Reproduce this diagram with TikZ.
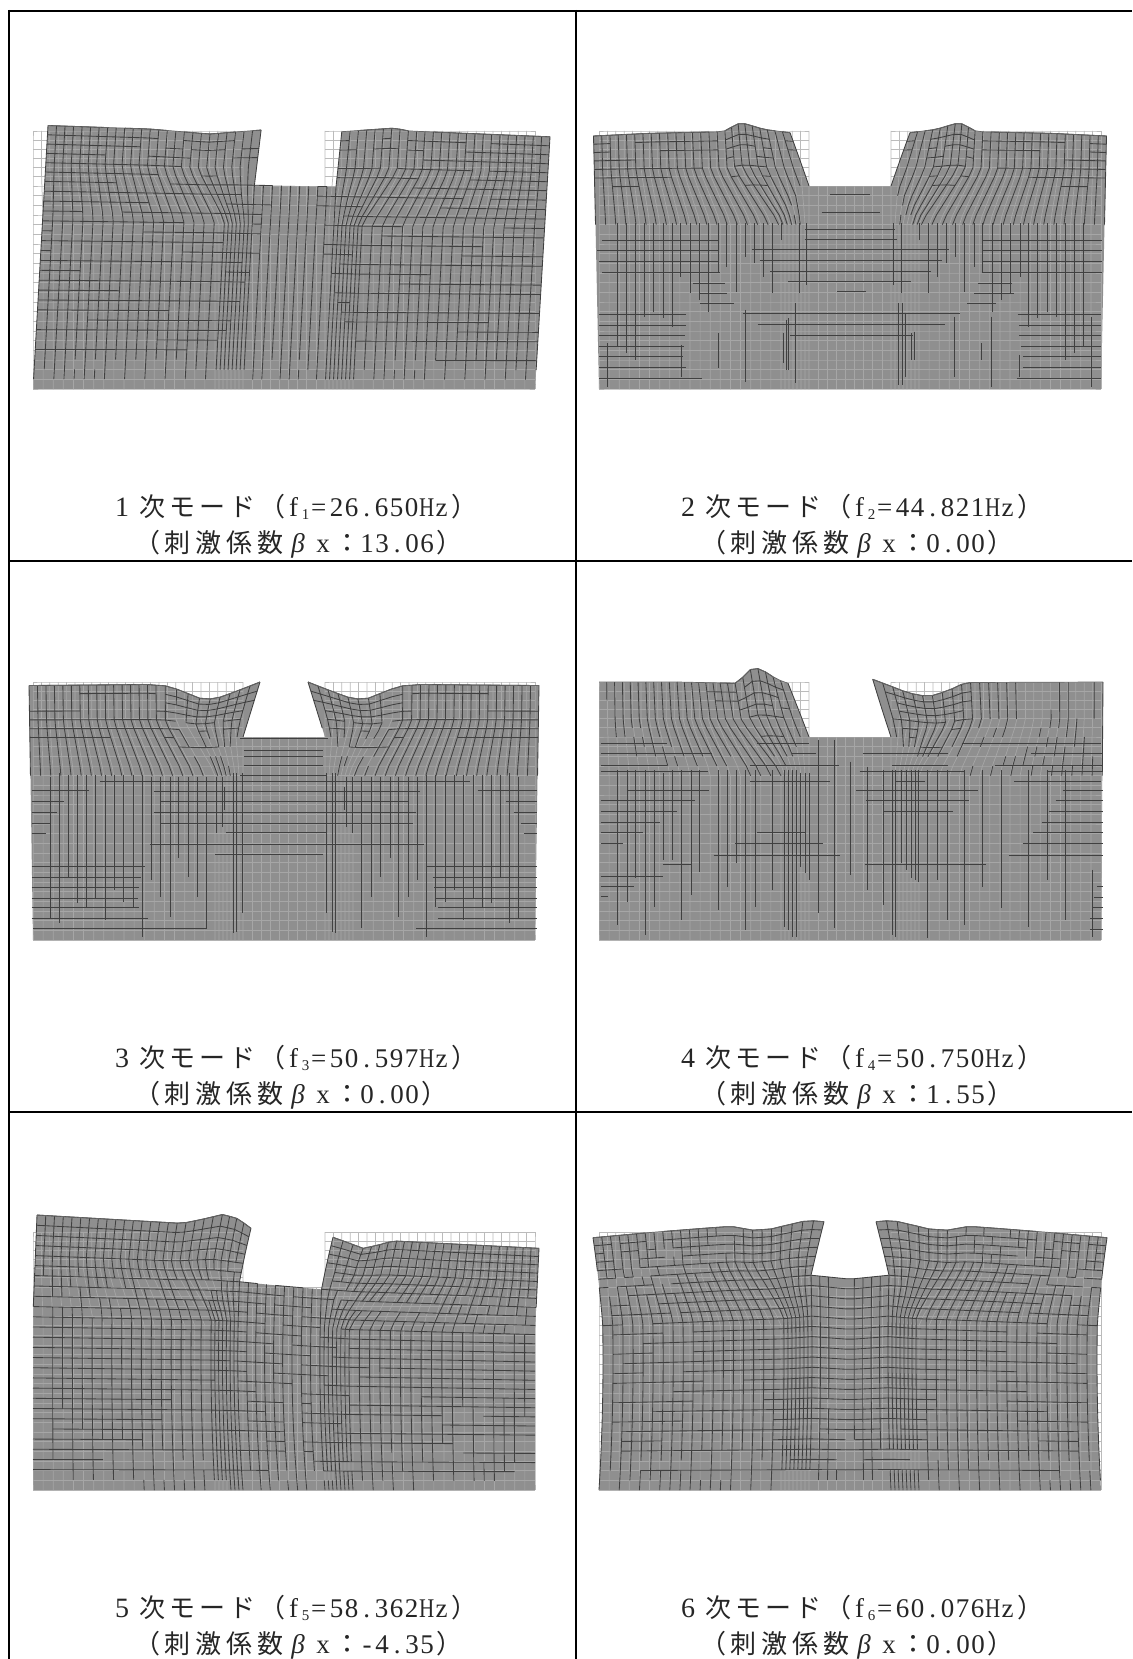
\documentclass[tikz,border=0pt]{standalone}
\usepackage{fontspec}
\setmainfont{Liberation Serif}
\newfontfamily\cjk{Noto Sans CJK JP}
\definecolor{meshfill}{HTML}{8F8F8F}
\definecolor{meshlight}{HTML}{BBBBBB}
\definecolor{meshinner}{HTML}{A6A6A6}
\definecolor{meshdark}{HTML}{404040}
\definecolor{meshedge}{HTML}{666666}
\tikzset{rule/.style={line width=2pt,black},capnode/.style={anchor=base west,inner sep=0pt,text=black!85},
  meshln/.style={draw=meshdark,line width=0.85pt}}
\makeatletter
\newcount\ci \newcount\cj \newcount\cn \newcount\cm
\newdimen\dU \newdimen\dH \newdimen\dX \newdimen\dY \newdimen\dM \newdimen\dD
\def\setv#1#2{\expandafter\xdef\csname#1\endcsname{#2}}
\def\getv#1{\csname#1\endcsname}
\def\IPsplit#1/#2\@nil{\def\curx{#1}\def\curv{#2}}
\def\interp#1#2{%
  \edef\ipq{#2}\def\ipres{0}\def\ipstate{0}%
  \@for\ippair:=#1\do{%
    \expandafter\IPsplit\ippair\@nil
    \ifnum\ipstate=0
      \ifdim\ipq pt>\curx pt \def\ipstate{1}\else \let\ipres\curv \def\ipstate{2}\fi
    \else\ifnum\ipstate=1
      \ifdim\ipq pt>\curx pt \else
        \pgfmathsetmacro\ipres{\prevv+(\curv-\prevv)*(\ipq-\prevx)/(\curx-\prevx)}%
        \def\ipstate{2}\fi
    \fi\fi
    \let\prevx\curx \let\prevv\curv}%
  \ifnum\ipstate=1 \let\ipres\prevv\fi}
\ci=0
\@whilenum\ci<26\do{%
  \pgfmathsetmacro\tmp{33+8.4*\the\ci}\setv{XT\the\ci}{\tmp}%
  \ifnum\ci<19 \pgfmathsetmacro\tmp{33+10.111*\the\ci}\else\pgfmathsetmacro\tmp{215+4*(\the\ci-18)}\fi
  \setv{XB\the\ci}{\tmp}\advance\ci 1 }
\ci=26
\@whilenum\ci<34\do{%
  \pgfmathsetmacro\tmp{243+9.1111*(\the\ci-25)}\setv{XT\the\ci}{\tmp}\setv{XB\the\ci}{\tmp}\advance\ci 1 }
\ci=34
\@whilenum\ci<60\do{%
  \cn=59 \advance\cn-\ci
  \pgfmathsetmacro\tmp{568-\getv{XT\the\cn}}\setv{XT\the\ci}{\tmp}%
  \pgfmathsetmacro\tmp{568-\getv{XB\the\cn}}\setv{XB\the\ci}{\tmp}\advance\ci 1 }
\cj=0
\@whilenum\cj<28\do{%
  \ifnum\cj<7 \pgfmathsetmacro\tmp{131+9.1667*\the\cj}\else\pgfmathsetmacro\tmp{186+9.6667*(\the\cj-6)}\fi
  \setv{YR\the\cj}{\tmp}%
  \pgfmathsetmacro\ss{max(0,min(1,(222-\tmp)/52))}\setv{SJ\the\cj}{\ss}%
  \pgfmathsetmacro\kk{(389-\tmp)/258}\setv{KJ\the\cj}{\kk}%
  \pgfmathsetmacro\mm{4*\kk*(1-\kk)}\setv{MJ\the\cj}{\mm}%
  \advance\cj 1 }
\def\modedata#1#2#3#4#5#6{%
  \ci=0
  \@whilenum\ci<60\do{%
    \edef\xq{\getv{XT\the\ci}}\let\xe\xq\def\sg{1}%
    \ifnum#6=1 \ifdim\xq pt>284pt \pgfmathsetmacro\xe{568-\xq}\def\sg{-1}\fi\fi
    \interp{#1}{\xe}\pgfmathsetmacro\tmp{\sg*\ipres}\setv{A\the\ci}{\tmp}%
    \interp{#2}{\xe}\pgfmathsetmacro\tmp{\sg*\ipres}\setv{B\the\ci}{\tmp}%
    \interp{#3}{\xe}\setv{C\the\ci}{\ipres}%
    \interp{#4}{\xe}\setv{D\the\ci}{\ipres}%
    \interp{#5}{\xe}\pgfmathsetmacro\tmp{\sg*\ipres}\setv{E\the\ci}{\tmp}%
    \pgfmathsetmacro\dist{\xq<284 ? 243-\xq : \xq-325}%
    \pgfmathsetmacro\yz{186+36*max(0,min(1,\dist/60))}\setv{YZ\the\ci}{\yz}%
    \pgfmathsetmacro\tmp{1/(\yz-131)}\setv{R\the\ci}{\tmp}%
    \advance\ci 1 }%
  \ci=0
  \@whilenum\ci<60\do{%
    \edef\xtt{\getv{XT\the\ci}}\edef\xbb{\getv{XB\the\ci}}%
    \edef\aa{\getv{A\the\ci}}\edef\bb{\getv{B\the\ci}}\edef\cc{\getv{C\the\ci}}%
    \edef\dd{\getv{D\the\ci}}\edef\ee{\getv{E\the\ci}}\edef\rr{\getv{R\the\ci}}\edef\yz{\getv{YZ\the\ci}}%
    \cj=0
    \@whilenum\cj<28\do{%
      \edef\yj{\getv{YR\the\cj}}\edef\sj{\getv{SJ\the\cj}}\edef\kj{\getv{KJ\the\cj}}\edef\mj{\getv{MJ\the\cj}}%
      \dU=\xbb pt \advance\dU by \sj\dimexpr\xtt pt-\xbb pt\relax
      \dH=\rr\dimexpr\yz pt-\yj pt\relax
      \ifdim\dH<0pt \dH=0pt\fi
      \edef\hh{\strip@pt\dH}%
      \dD=\hh\dH \edef\hq{\strip@pt\dD}%
      \dX=\dU
      \advance\dX by \hh\dimexpr\aa pt\relax
      \advance\dX by \kj\dimexpr\bb pt\relax
      \advance\dX by \mj\dimexpr\ee pt\relax
      \dY=\yj pt
      \advance\dY by \hq\dimexpr\cc pt\relax
      \advance\dY by \kj\dimexpr\dd pt\relax
      \setv{U\the\ci.\the\cj}{\the\dU}%
      \setv{X\the\ci.\the\cj}{\the\dX}%
      \setv{Y\the\ci.\the\cj}{\the\dY}%
      \advance\cj 1 }%
    \advance\ci 1 }}
\def\Pn#1#2{\pgfqpoint{\getv{X#1.#2}}{-\getv{Y#1.#2}}}
\def\Pu#1#2{\pgfqpoint{\getv{U#1.#2}}{-\getv{YR#2}pt}}
\def\aliasvisible{\cn=\dM \divide\cn 87381 \cm=\cn \divide\cm 3 \multiply\cm 3 \advance\cn-\cm}
\def\bodypath{%
  \pgfpathmoveto{\Pn{0}{0}}%
  \ci=1 \@whilenum\ci<26\do{\pgfpathlineto{\Pn{\the\ci}{0}}\advance\ci 1 }%
  \cj=1 \@whilenum\cj<7\do{\pgfpathlineto{\Pn{25}{\the\cj}}\advance\cj 1 }%
  \ci=26 \@whilenum\ci<35\do{\pgfpathlineto{\Pn{\the\ci}{6}}\advance\ci 1 }%
  \cj=5 \@whilenum\cj>-1\do{\pgfpathlineto{\Pn{34}{\the\cj}}\advance\cj-1 }%
  \ci=35 \@whilenum\ci<60\do{\pgfpathlineto{\Pn{\the\ci}{0}}\advance\ci 1 }%
  \cj=1 \@whilenum\cj<28\do{\pgfpathlineto{\Pn{59}{\the\cj}}\advance\cj 1 }%
  \ci=58 \@whilenum\ci>-1\do{\pgfpathlineto{\Pn{\the\ci}{27}}\advance\ci-1 }%
  \cj=26 \@whilenum\cj>0\do{\pgfpathlineto{\Pn{0}{\the\cj}}\advance\cj-1 }%
  \pgfpathclose}
\def\gridpath{%
  \ci=0
  \@whilenum\ci<60\do{%
    \ifnum\ci>25 \ifnum\ci<34 \cj=6 \else\cj=0 \fi\else\cj=0 \fi
    \pgfpathmoveto{\Pu{\the\ci}{\the\cj}}\advance\cj 1
    \@whilenum\cj<28\do{\pgfpathlineto{\Pu{\the\ci}{\the\cj}}\advance\cj 1 }%
    \pgfusepath{stroke}\advance\ci 1 }%
  \cj=0
  \@whilenum\cj<28\do{%
    \pgfpathmoveto{\Pu{0}{\the\cj}}%
    \ci=1
    \@whilenum\ci<60\do{%
      \ifnum\cj<6 \ifnum\ci=34 \pgfpathmoveto{\Pu{34}{\the\cj}}\else\ifnum\ci>25 \ifnum\ci<34 \else\pgfpathlineto{\Pu{\the\ci}{\the\cj}}\fi\else\pgfpathlineto{\Pu{\the\ci}{\the\cj}}\fi\fi
      \else\pgfpathlineto{\Pu{\the\ci}{\the\cj}}\fi
      \advance\ci 1 }%
    \pgfusepath{stroke}\advance\cj 1 }}
\def\jcut{28}
\def\thr{0.45}
\def\modedraw{%
  \pgfsetroundjoin
  \pgfsetstrokecolor{meshlight}\pgfsetlinewidth{0.75pt}%
  \gridpath
  \pgfsetfillcolor{meshfill}%
  \bodypath\pgfusepath{fill}%
  \begin{pgfscope}%
    \bodypath\pgfusepath{clip}%
    \pgfsetstrokecolor{meshinner}\pgfsetlinewidth{0.7pt}%
    \gridpath
  \end{pgfscope}%
  \pgfsetstrokecolor{meshdark}\pgfsetlinewidth{0.85pt}\pgfsetbuttcap
  \cj=0
  \@whilenum\cj<\jcut\do{%
    \ci=0
    \@whilenum\ci<59\do{%
      \def\doedge{1}%
      \ifnum\cj<6 \ifnum\ci>24 \ifnum\ci<34 \def\doedge{0}\fi\fi\fi
      \ifnum\doedge=1
        \cm=\ci \advance\cm 1
        \dM=\dimexpr(\getv{Y\the\ci.\the\cj}+\getv{Y\the\cm.\the\cj})/2\relax
        \dD=\dimexpr\dM-\getv{YR\the\cj}pt\relax
        \ifdim\dD<0pt \dD=-\dD\fi
        \ifdim\dD>\thr pt
          \cm=\ci \advance\cm 1 \edef\inext{\the\cm}%
          \aliasvisible
          \ifdim\dD>3.5pt \cn=0 \fi
          \ifnum\cn<2
            \pgfpathmoveto{\Pn{\the\ci}{\the\cj}}\pgfpathlineto{\Pn{\inext}{\the\cj}}%
          \fi
        \fi
      \fi
      \advance\ci 1 }%
    \pgfusepath{stroke}\advance\cj 1 }%
  \ci=0
  \@whilenum\ci<60\do{%
    \cj=0
    \@whilenum\cj<\jcut\do{%
      \ifnum\cj<27
      \def\doedge{1}%
      \ifnum\cj<6 \ifnum\ci>25 \ifnum\ci<34 \def\doedge{0}\fi\fi\fi
      \ifnum\doedge=1
        \cm=\cj \advance\cm 1 \edef\jnext{\the\cm}%
        \dM=\dimexpr(\getv{X\the\ci.\the\cj}+\getv{X\the\ci.\jnext})/2\relax
        \dD=\dimexpr\dM-(\getv{U\the\ci.\the\cj}+\getv{U\the\ci.\jnext})/2\relax
        \ifdim\dD<0pt \dD=-\dD\fi
        \ifdim\dD>\thr pt
          \aliasvisible
          \ifdim\dD>1.5pt \cn=0 \fi
          \ifnum\cn<2
            \pgfpathmoveto{\Pn{\the\ci}{\the\cj}}\pgfpathlineto{\Pn{\the\ci}{\jnext}}%
          \fi
        \fi
      \fi
      \fi
      \advance\cj 1 }%
    \pgfusepath{stroke}\advance\ci 1 }%
  \pgfsetstrokecolor{meshedge}\pgfsetlinewidth{0.7pt}%
  \pgfpathmoveto{\Pn{0}{0}}%
  \ci=1 \@whilenum\ci<26\do{\pgfpathlineto{\Pn{\the\ci}{0}}\advance\ci 1 }%
  \pgfpathmoveto{\Pn{34}{0}}%
  \ci=35 \@whilenum\ci<60\do{\pgfpathlineto{\Pn{\the\ci}{0}}\advance\ci 1 }%
  \pgfusepath{stroke}}
\newcommand\meshH[1]{\foreach \yy/\aa/\bb in {#1}{\draw[meshln] (\aa,\yy) -- (\bb,\yy);}}
\newcommand\meshV[1]{\foreach \xx/\aa/\bb in {#1}{\draw[meshln] (\xx,\aa) -- (\xx,\bb);}}
\newcommand\meshVs[2]{\foreach \xx/\aa/\bb in {#2}{\draw[meshln] (\xx,\aa) -- (\xx,\bb);
  \draw[meshln] ({#1-\xx},\aa) -- ({#1-\xx},\bb);}}
\newcommand\hws[1]{\fontsize{27}{27}\selectfont\@tfor\hwc:=#1\do{\makebox[15pt]{\hwc}}}
\newcommand\fwj[2][30pt]{\makebox[#1]{\fontsize{26}{26}\selectfont\cjk #2}}
\newcommand\capone[3]{\fontsize{27}{27}\selectfont
  \makebox[30pt]{\fontsize{28}{28}\selectfont #1}\fwj{次}\fwj{モ}\fwj{ー}\fwj{ド}\fwj{（}%
  \makebox[13pt]{f}\makebox[11pt]{\raisebox{-3pt}{\fontsize{15}{15}\selectfont #2}}\makebox[15pt]{=}\hspace{3pt}\hws{#3}%
  \makebox[15pt]{\scalebox{0.78}[1]{H}}\makebox[15pt]{z}\fwj{）}}
\newcommand\captwo[1]{\fontsize{27}{27}\selectfont
  \fwj{（}\fwj[31pt]{刺}\fwj[31pt]{激}\fwj[31pt]{係}\fwj[31pt]{数}%
  \makebox[24pt]{\itshape β}\makebox[26pt]{x}\makebox[22pt]{\fontsize{26}{26}\selectfont\cjk ：}\hspace{1.5pt}\hws{#1}\fwj{）}}
\makeatother
\begin{document}
\begin{tikzpicture}[x=1pt,y=1pt]
\useasboundingbox (0,0) rectangle (1132,-1659);
\fill[white] (0,0) rectangle (1132,-1659);
\makeatletter
% mode 1
\begin{scope}[shift={(0,0)}]
\modedata{33/0,243/3.6,284/0,325/2.8,535/0}{33/15,243/14.5,325/14,535/15}{33/0.5,133/1.6,192/5.2,243/0,325/-0.3,378/-5.2,393/-2.6,535/-0.2}{33/-6,284/0,535/6}{33/0}{0}
\modedraw
\end{scope}
% mode 2
\begin{scope}[shift={(566,0)}]
\modedata{33/0,165/-3,194/-11,243/-19}{33/-5.5,165/-5,243/0}{33/5,90/2.3,165/0.7,172/-2,180/-6,187/-8,195/-7,205/-4,215/-1.5,243/1.7}{33/0}{33/0}{1}
\def\jcut{10}\modedraw
\begin{scope}[shift={(4,-90)},x=0.361pt,y=-0.3333pt]
\meshH{312/720/830,366/697/858,418/652/900,448/650/905,478/505/1050,510/525/1030,543/555/1000,574/605/945,605/740/820,670/480/1080,702/520/1040,735/610/950,
672/80/320,705/80/320,737/80/318,770/80/315,800/80/312,832/80/320,864/80/365,
672/1240/1472,705/1245/1472,737/1245/1472,770/1250/1472,800/1255/1472,832/1255/1472,864/1238/1472,
580/340/430,610/360/435,640/360/455,580/1130/1225,610/1120/1230,640/1100/1180,
450/90/410,482/75/410,514/80/410,546/90/415,450/1145/1475,482/1145/1475,514/1145/1475,546/1140/1475}
\meshVs{1552}{130/400/770,155/400/790,180/400/810,205/400/680,230/400/665,258/400/685,283/400/710,305/400/560,333/400/610,358/400/630,383/400/665,410/400/545,433/400/530,460/400/605,485/400/500,510/400/520,535/400/560,560/400/610,585/400/450,635/400/610,655/400/585}
\meshV{105/760/890,485/660/875,625/640/880,605/685/840,600/690/840,590/730/820,410/730/835,310/765/860,910/640/885,920/640/885,930/670/860,945/730/810,955/725/810,1065/680/860,1167/680/890,1140/760/810,1245/795/860,1445/680/890}
\end{scope}
\end{scope}
% mode 3
\begin{scope}[shift={(0,-551)}]
\modedata{33/0,165/0,196/10,243/17}{33/-4,165/-3,243/0}{33/3.5,150/2.5,170/4,185/12,196/18,210/15,228/7,243/0}{33/0}{33/0}{1}
\def\jcut{10}\modedraw
\begin{scope}[shift={(10,-99)},x=0.3597pt,y=-0.3333pt]
\meshH{265/640/885,300/650/870,320/650/870,345/650/870,375/640/880,395/250/1280,425/400/1140,455/420/1110,486/400/1130,520/420/1120,548/600/880,583/390/1150,612/570/870,
420/60/220,455/60/150,486/60/130,520/60/110,550/60/100,420/1300/1465,455/1380/1465,486/1400/1465,520/1420/1465,550/1430/1465,
650/60/375,682/60/365,712/60/360,745/60/355,772/60/360,805/60/385,835/65/547,
650/1160/1465,682/1175/1465,712/1180/1465,745/1185/1465,772/1190/1465,805/1190/1465,835/1130/1465}
\meshVs{1525}{112/380/805,137/370/820,162/375/680,187/375/760,213/375/775,238/375/745,265/375/810,290/375/720,315/375/755,342/375/770,368/375/860,393/380/690,418/380/740,445/380/800,468/380/625,495/380/680,520/380/740,547/380/835,573/380/550,590/380/530,595/410/480,620/370/850,630/370/845,645/370/790}
\end{scope}
\end{scope}
% mode 4
\begin{scope}[shift={(566,-551)}]
\modedata{33/0,118/-6,172/-14,205/-17,243/-21,325/-18.3,360/-12,397/-6,460/-2,535/0}{33/0,243/0,325/0,535/2}{33/0,118/0,186/1.3,191/-3,196/-8.5,201/-12.5,206/-13.9,212/-13,220/-9,230/-3,243/1.3,325/-2.7,340/4,355/11,372/14.7,388/9,404/0.5,535/0}{33/0}{33/0}{0}
\def\jcut{10}\modedraw
\begin{scope}[shift={(14,-99)},x=0.3472pt,y=-0.3333pt]
\meshH{395/490/720,395/910/995,395/1250/1500,420/135/372,420/795/1145,420/1390/1505,452/60/330,452/825/1120,452/1370/1505,485/60/280,485/875/1075,485/1350/1505,517/60/230,517/1330/1505,548/60/180,548/510/650,548/1305/1505,580/60/125,580/445/700,580/1275/1505,615/385/750,615/1235/1505,643/240/320,643/820/1170,678/60/240,708/60/155,740/60/80,310/60/380,310/610/680,310/815/1060,310/1300/1505,345/60/250,345/490/745,345/900/1060,345/1195/1505,365/60/370,365/805/1105,365/1345/1505,280/60/250,280/510/660,280/1100/1500,710/1490/1505,742/1480/1505,773/1475/1505,805/1470/1505,837/1470/1505}
\meshV{612/360/860,622/360/860,600/360/840,590/360/830,635/370/650,650/370/670,660/370/690,687/270/790,733/270/835,780/335/675,827/350/720,873/360/765,900/360/855,908/360/860,925/360/640,940/360/660,955/360/685,965/360/690,975/360/695,1002/360/865,1030/360/690,1058/360/810,1107/360/825,1160/360/710,1213/360/775,1292/360/830,1397/360/810,1345/360/690,1475/660/860,475/360/840,555/360/720,505/360/770,400/360/780,345/360/665,320/360/735,293/360/810,267/360/630,240/370/630,215/360/770,187/360/855,160/360/685,137/360/755,108/360/825,425/360/710,450/360/640}
\end{scope}
\end{scope}
% mode 5
\begin{scope}[shift={(0,-1101)}]
\modedata{33/4,172/10,210/13,243/8,325/8,350/13,380/13,535/4}{33/0}{33/-3,172/0.5,190/-4,210/-9.8,228/-6,243/3,325/2.3,335/6,350/12,365/8,380/3,535/2.3}{33/-14,243/-6.7,284/-1.5,325/3,535/14}{33/0,130/-3,284/-6,430/-3,535/0}{0}
\def\jcut{28}\def\thr{0.2}\modedraw
\end{scope}
% mode 6
\begin{scope}[shift={(566,-1101)}]
\modedata{33/-6,90/-4,165/0,205/5,235/13,243/15}{33/0}{33/5.7,90/4.6,165/4,185/9.3,201/9,230/2.4,243/4.7}{33/0,140/-8,243/-15,284/-10}{33/4,140/3,243/3,284/0}{1}
\def\jcut{28}\def\thr{0.2}\modedraw
\end{scope}
\makeatother
\draw[rule] (9,-11) -- (1132,-11);
\draw[rule] (9,-10) -- (9,-1659);
\draw[rule] (575.5,-10) -- (575.5,-1659);
\draw[rule] (9,-561) -- (1132,-561);
\draw[rule] (9,-1112) -- (1132,-1112);
\node[capnode] (c1a) at (107,-516) {\capone{1}{1}{26.650}};
\node[capnode] (c1b) at (132,-552) {\captwo{13.06}};
\node[capnode] (c2a) at (673,-516) {\capone{2}{2}{44.821}};
\node[capnode] (c2b) at (698,-552) {\captwo{0.00}};
\node[capnode] (c3a) at (107,-1067) {\capone{3}{3}{50.597}};
\node[capnode] (c3b) at (132,-1103) {\captwo{0.00}};
\node[capnode] (c4a) at (673,-1067) {\capone{4}{4}{50.750}};
\node[capnode] (c4b) at (698,-1103) {\captwo{1.55}};
\node[capnode] (c5a) at (107,-1617) {\capone{5}{5}{58.362}};
\node[capnode] (c5b) at (132,-1653) {\captwo{-4.35}};
\node[capnode] (c6a) at (673,-1617) {\capone{6}{6}{60.076}};
\node[capnode] (c6b) at (698,-1653) {\captwo{0.00}};
\end{tikzpicture}
\end{document}
